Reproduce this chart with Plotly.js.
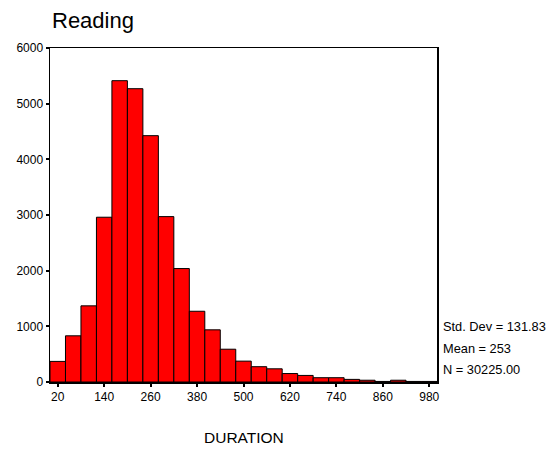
<!DOCTYPE html>
<html>
<head>
<meta charset="utf-8">
<script src="https://cdn.plot.ly/plotly-3.0.1.min.js"></script>
<style>html,body{margin:0;padding:0;background:#fff;}#chart{width:553px;height:451px;}</style>
</head>
<body>
<div id="chart"></div>
<script>
// Histogram bins of DURATION (bin width 40, centers shown)
var binCenters = [20, 60, 100, 140, 180, 220, 260, 300, 340, 380, 420, 460, 500, 540, 580, 620, 660, 700, 740, 780, 820, 860, 900, 940, 980];
var counts = [370, 830, 1368, 2960, 5413, 5269, 4425, 2971, 2038, 1271, 937, 589, 375, 275, 237, 152, 118, 77, 77, 47, 32, 10, 32, 10, 10];
var tickVals = [20, 140, 260, 380, 500, 620, 740, 860, 980];
var yTicks = [0, 1000, 2000, 3000, 4000, 5000, 6000];
var statsLines = ["Std. Dev = 131.83", "Mean = 253", "N = 30225.00"];

var fontFam = "Liberation Sans, Arial, sans-serif";

var trace = {
  type: "bar",
  x: binCenters,
  y: counts,
  width: 40,
  marker: {color: "#ff0000", line: {color: "#000000", width: 1}},
  hoverinfo: "x+y"
};

var annotations = [
  {text: "DURATION", xref: "paper", yref: "paper", x: 0.5, y: 0, yshift: -55, xanchor: "center", yanchor: "middle",
   showarrow: false, font: {family: fontFam, size: 15.5, color: "#000"}}
];
var statY = [326, 348, 369];
statsLines.forEach(function (s, i) {
  annotations.push({text: s, xref: "paper", yref: "paper", x: 1, xshift: 4,
    y: (382 - statY[i]) / 334, xanchor: "left", yanchor: "middle", showarrow: false,
    font: {family: fontFam, size: 12.8, color: "#000"}});
});

var layout = {
  width: 553, height: 451,
  margin: {l: 50, r: 116, t: 48, b: 69, pad: 0},
  paper_bgcolor: "#fff", plot_bgcolor: "#fff",
  showlegend: false,
  bargap: 0,
  title: {text: "Reading", x: 52 / 553, xanchor: "left", xref: "container", y: 1 - 20 / 451, yanchor: "middle", yref: "container",
          font: {family: fontFam, size: 22, color: "#000"}},
  xaxis: {range: [0, 1000], tickmode: "array", tickvals: tickVals, ticks: "outside", ticklen: 3, tickwidth: 2, tickcolor: "#000",
          showline: true, linecolor: "#000", linewidth: 1.5, mirror: true, showgrid: false, zeroline: false,
          tickfont: {family: fontFam, size: 12, color: "#000"}, fixedrange: true},
  yaxis: {range: [0, 6000], tickmode: "array", tickvals: yTicks, ticks: "outside", ticklen: 3, tickwidth: 2, tickcolor: "#000",
          showline: true, linecolor: "#000", linewidth: 1.5, mirror: true, showgrid: false, zeroline: false,
          tickfont: {family: fontFam, size: 12, color: "#000"}, fixedrange: true},
  annotations: annotations
};

Plotly.newPlot("chart", [trace], layout, {displayModeBar: false, staticPlot: true});
</script>
</body>
</html>
